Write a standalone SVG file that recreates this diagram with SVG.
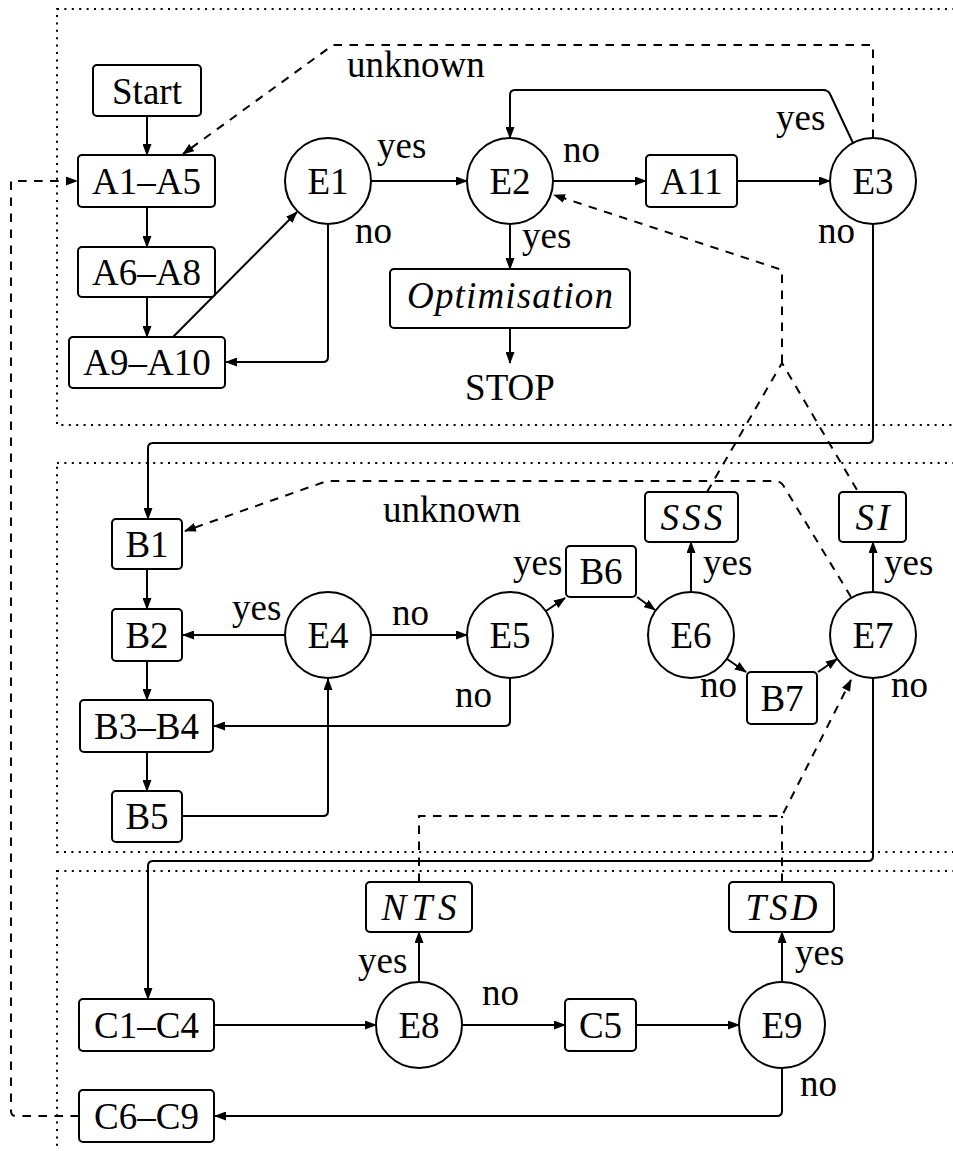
<svg xmlns="http://www.w3.org/2000/svg" width="953" height="1151" viewBox="0 0 953 1151">
  <style>
    .bg { fill: #ffffff; }
    .frame { fill: none; stroke: #000; stroke-width: 2; stroke-dasharray: 2 5.4; }
    .box { fill: #ffffff; stroke: #000; stroke-width: 2; }
    .circ { fill: #ffffff; stroke: #000; stroke-width: 2; }
    .t { font-family: 'Liberation Serif', serif; font-size: 37px; fill: #000; }
    .c { text-anchor: middle; }
    .it { font-style: italic; }
    .ln { fill: none; stroke: #000; stroke-width: 2; stroke-linejoin: round; }
    .dash { stroke-dasharray: 8.5 7.5; }
    .arr { marker-end: url(#ah); }
  </style>
  <defs>
    <marker id="ah" viewBox="0 0 12 9" refX="11" refY="4.5" markerWidth="12" markerHeight="9" markerUnits="userSpaceOnUse" orient="auto">
      <path d="M0,0 L12,4.5 L0,9 Z" fill="#000"/>
    </marker>
  </defs>

  <rect class="bg" x="0" y="0" width="953" height="1151"/>

  <!-- dotted stage frames -->
  <g id="frames">
    <rect class="frame" x="57" y="9" width="920" height="416"/>
    <rect class="frame" x="57" y="463" width="920" height="389"/>
    <rect class="frame" x="57" y="871" width="920" height="320"/>
  </g>

  <!-- connectors -->
  <g id="connectors">
    <!-- solid flow -->
    <path class="ln arr" d="M147,116 V155"/>
    <path class="ln arr" d="M147,207 V247"/>
    <path class="ln arr" d="M147,297 V337"/>
    <path class="ln arr" d="M173,337 L297,212"/>
    <path class="ln arr" d="M371,181 H467"/>
    <path class="ln arr" d="M328,224 V357 Q328,362 323,362 H226"/>
    <path class="ln arr" d="M553,181 H646"/>
    <path class="ln arr" d="M737,181 H830"/>
    <path class="ln arr" d="M853,143 L830,94 Q828,90 823,90 H515 Q510,90 510,95 V138"/>
    <path class="ln arr" d="M510,224 V269"/>
    <path class="ln arr" d="M510,328 V363"/>
    <path class="ln arr" d="M873,224 V438 Q873,443 868,443 H153 Q148,443 148,448 V519"/>
    <path class="ln arr" d="M147,569 V609"/>
    <path class="ln arr" d="M147,661 V700"/>
    <path class="ln arr" d="M147,752 V791"/>
    <path class="ln arr" d="M285,635 H183"/>
    <path class="ln arr" d="M371,635 H467"/>
    <path class="ln arr" d="M510,678 V721 Q510,726 505,726 H214"/>
    <path class="ln arr" d="M182,816 H323 Q328,816 328,811 V679"/>
    <path class="ln arr" d="M546,611 L565,598"/>
    <path class="ln arr" d="M637,597 L655,610"/>
    <path class="ln arr" d="M691,592 V542"/>
    <path class="ln arr" d="M727,659 L746,672"/>
    <path class="ln arr" d="M818,672 L837,659"/>
    <path class="ln arr" d="M873,592 V542"/>
    <path class="ln arr" d="M873,678 V856 Q873,861 868,861 H153 Q148,861 148,866 V999"/>
    <path class="ln arr" d="M214,1025 H376"/>
    <path class="ln arr" d="M419,982 V932"/>
    <path class="ln arr" d="M462,1025 H565"/>
    <path class="ln arr" d="M636,1025 H739"/>
    <path class="ln arr" d="M782,982 V932"/>
    <path class="ln arr" d="M782,1068 V1111 Q782,1116 777,1116 H215"/>

    <!-- dashed feedback -->
    <path class="ln dash arr" d="M873,138 V45 H333 L183,154"/>
    <path class="ln dash" d="M707,492 L782,363 L857,490"/>
    <path class="ln dash arr" d="M782,363 V270 L554,195"/>
    <path class="ln dash arr" d="M851,597 L783,485 Q780,481 775,481 H327 L185,531"/>
    <path class="ln dash arr" d="M419,882 V816 H782 L851,680"/>
    <path class="ln dash" d="M782,882 V816"/>
    <path class="ln dash arr" d="M79,1116 H16 Q11,1116 11,1111 V181 H77"/>
  </g>

  <!-- edge labels -->
  <g id="labels">
    <text class="t" x="347" y="77">unknown</text>
    <text class="t" x="377" y="158">yes</text>
    <text class="t" x="355" y="243">no</text>
    <text class="t" x="563" y="162">no</text>
    <text class="t" x="776" y="130">yes</text>
    <text class="t" x="818" y="243">no</text>
    <text class="t" x="522" y="248">yes</text>
    <text class="t" x="383" y="522">unknown</text>
    <text class="t" x="232" y="620">yes</text>
    <text class="t" x="392" y="625">no</text>
    <text class="t" x="455" y="707">no</text>
    <text class="t" x="513" y="575">yes</text>
    <text class="t" x="703" y="575">yes</text>
    <text class="t" x="700" y="697">no</text>
    <text class="t" x="884" y="575">yes</text>
    <text class="t" x="891" y="697">no</text>
    <text class="t" x="358" y="973">yes</text>
    <text class="t" x="482" y="1005">no</text>
    <text class="t" x="795" y="965">yes</text>
    <text class="t" x="800" y="1096">no</text>
  </g>

  <!-- stage A -->
  <g id="start"><rect class="box" x="93" y="65" width="108" height="51" rx="4"/><text class="t c" x="147" y="104">Start</text></g>
  <g id="a1-a5"><rect class="box" x="78" y="155" width="137" height="52" rx="4"/><text class="t c" x="146.5" y="194">A1–A5</text></g>
  <g id="a6-a8"><rect class="box" x="78" y="247" width="137" height="50" rx="4"/><text class="t c" x="146.5" y="285">A6–A8</text></g>
  <g id="a9-a10"><rect class="box" x="69" y="337" width="156" height="51" rx="4"/><text class="t c" x="147" y="375">A9–A10</text></g>
  <g id="e1"><circle class="circ" cx="328" cy="181" r="43"/><text class="t c" x="328" y="194">E1</text></g>
  <g id="e2"><circle class="circ" cx="510" cy="181" r="43"/><text class="t c" x="510" y="194">E2</text></g>
  <g id="a11"><rect class="box" x="646" y="155" width="91" height="52" rx="4"/><text class="t c" x="691.5" y="194">A11</text></g>
  <g id="e3"><circle class="circ" cx="873" cy="181" r="43"/><text class="t c" x="873" y="194">E3</text></g>
  <g id="optimisation"><rect class="box" x="390" y="269" width="240" height="59" rx="4"/><text class="t c it" x="510" y="308" textLength="206" lengthAdjust="spacing">Optimisation</text></g>
  <g id="stop"><text class="t c" x="510" y="400">STOP</text></g>

  <!-- stage B -->
  <g id="b1"><rect class="box" x="112" y="519" width="70" height="50" rx="4"/><text class="t c" x="147" y="557">B1</text></g>
  <g id="b2"><rect class="box" x="112" y="609" width="70" height="52" rx="4"/><text class="t c" x="147" y="648">B2</text></g>
  <g id="b3-b4"><rect class="box" x="80" y="700" width="133" height="52" rx="4"/><text class="t c" x="146.5" y="739">B3–B4</text></g>
  <g id="b5"><rect class="box" x="112" y="791" width="70" height="51" rx="4"/><text class="t c" x="147" y="829">B5</text></g>
  <g id="e4"><circle class="circ" cx="328" cy="635" r="43"/><text class="t c" x="328" y="648">E4</text></g>
  <g id="e5"><circle class="circ" cx="510" cy="635" r="43"/><text class="t c" x="510" y="648">E5</text></g>
  <g id="b6"><rect class="box" x="566" y="546" width="70" height="51" rx="4"/><text class="t c" x="601" y="584">B6</text></g>
  <g id="e6"><circle class="circ" cx="691" cy="635" r="43"/><text class="t c" x="691" y="648">E6</text></g>
  <g id="sss"><rect class="box" x="645" y="492" width="93" height="50" rx="4"/><text class="t c it" x="691.5" y="530" textLength="62" lengthAdjust="spacing">SSS</text></g>
  <g id="b7"><rect class="box" x="747" y="672" width="70" height="52" rx="4"/><text class="t c" x="782" y="711">B7</text></g>
  <g id="e7"><circle class="circ" cx="873" cy="635" r="43"/><text class="t c" x="873" y="648">E7</text></g>
  <g id="si"><rect class="box" x="839" y="492" width="67" height="50" rx="4"/><text class="t c it" x="872.5" y="530" textLength="34" lengthAdjust="spacing">SI</text></g>

  <!-- stage C -->
  <g id="c1-c4"><rect class="box" x="79" y="999" width="135" height="52" rx="4"/><text class="t c" x="146.5" y="1038">C1–C4</text></g>
  <g id="e8"><circle class="circ" cx="419" cy="1025" r="43"/><text class="t c" x="419" y="1038">E8</text></g>
  <g id="nts"><rect class="box" x="366" y="882" width="106" height="50" rx="4"/><text class="t c it" x="419" y="920" textLength="75" lengthAdjust="spacing">NTS</text></g>
  <g id="c5"><rect class="box" x="565" y="999" width="71" height="52" rx="4"/><text class="t c" x="600.5" y="1038">C5</text></g>
  <g id="e9"><circle class="circ" cx="782" cy="1025" r="43"/><text class="t c" x="782" y="1038">E9</text></g>
  <g id="tsd"><rect class="box" x="729" y="882" width="105" height="50" rx="4"/><text class="t c it" x="781.5" y="920" textLength="72" lengthAdjust="spacing">TSD</text></g>
  <g id="c6-c9"><rect class="box" x="79" y="1090" width="135" height="52" rx="4"/><text class="t c" x="146.5" y="1129">C6–C9</text></g>
</svg>
